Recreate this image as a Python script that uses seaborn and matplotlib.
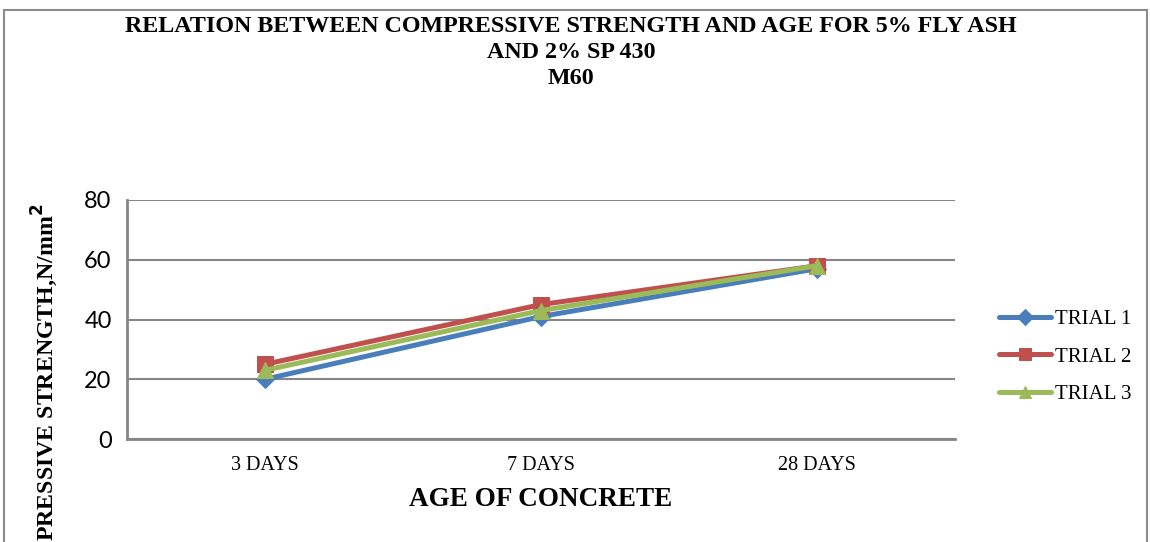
import numpy as np
import pandas as pd
import seaborn as sns
import matplotlib.pyplot as plt
from matplotlib.patches import Rectangle

# dados
idades = ['3 DAYS', '7 DAYS', '28 DAYS']
trial_1 = [20, 41, 57]
trial_2 = [25, 45, 58]
trial_3 = [23, 43, 58]
series = ['TRIAL 1', 'TRIAL 2', 'TRIAL 3']
yticks = [0, 20, 40, 60, 80]

df = pd.DataFrame({
    'idade': idades * 3,
    'resistencia': trial_1 + trial_2 + trial_3,
    'serie': np.repeat(series, len(idades)),
})

sns.set_style('white')
plt.rcParams['font.family'] = ['Liberation Serif', 'DejaVu Serif']
plt.rcParams['text.color'] = 'black'
plt.rcParams['xtick.color'] = 'black'
plt.rcParams['ytick.color'] = 'black'
plt.rcParams['axes.labelcolor'] = 'black'

fig = plt.figure(figsize=(11.5, 5.42), dpi=100)
ax = fig.add_axes([127 / 1150, 1 - 439 / 542, (955 - 127) / 1150, (439 - 200) / 542])

cores = {'TRIAL 1': '#4A7EBB', 'TRIAL 2': '#C0504D', 'TRIAL 3': '#9BBB59'}
marcadores = {'TRIAL 1': 'D', 'TRIAL 2': 's', 'TRIAL 3': '^'}
tamanhos = {'TRIAL 1': 9, 'TRIAL 2': 11, 'TRIAL 3': 12}

for s in series:
    sns.lineplot(data=df[df['serie'] == s], x='idade', y='resistencia', ax=ax,
                 color=cores[s], lw=3.6, marker=marcadores[s], markersize=tamanhos[s],
                 markeredgecolor=cores[s], label=s, sort=False, zorder=3)

ax.set_xlim(-0.5, 2.5)
ax.set_ylim(0, 80)
ax.set_yticks(yticks)
ax.set_yticklabels([str(v) for v in yticks], family='Lato', fontsize=17)
ax.set_xticks([-0.5, 0.5, 1.5, 2.5])
ax.set_xticklabels([])
ax.set_xticks(range(len(idades)), minor=True)
ax.set_xticklabels(idades, minor=True, fontsize=14.5)
ax.tick_params(axis='x', which='major', length=6, width=1, color='#868686', direction='out')
ax.tick_params(axis='x', which='minor', length=0, pad=12)
ax.tick_params(axis='y', length=7, width=1.2, color='#868686', direction='out', pad=4)

ax.yaxis.grid(True, color='#868686', lw=1.5)
ax.xaxis.grid(False)
for lado in ['top', 'right']:
    ax.spines[lado].set_visible(False)
for lado in ['left', 'bottom']:
    ax.spines[lado].set_color('#868686')
    ax.spines[lado].set_linewidth(2)

ax.set_xlabel('AGE OF CONCRETE', fontsize=19.5, fontweight='bold', labelpad=9)
ax.set_ylabel('')

fig.text(571 / 1150, 1 - 27 / 542, 'RELATION BETWEEN COMPRESSIVE STRENGTH AND AGE FOR 5% FLY ASH',
         ha='center', va='center', fontsize=17.3, fontweight='bold')
fig.text(571 / 1150, 1 - 53 / 542, 'AND 2% SP 430', ha='center', va='center',
         fontsize=17.3, fontweight='bold')
fig.text(571 / 1150, 1 - 79 / 542, 'M60', ha='center', va='center',
         fontsize=17.3, fontweight='bold')

# rótulo do eixo y: só a parte visível no original
fig.text(45 / 1150, 1 - 541 / 542, 'PRESSIVE STRENGTH,N/mm$^\\mathbf{2}$', rotation=90,
         ha='center', va='bottom', fontsize=17.2, fontweight='bold')

leg = ax.legend(loc='center left', bbox_to_anchor=(991 / 1150, 1 - 357 / 542),
                bbox_transform=fig.transFigure, frameon=False, fontsize=15,
                handlelength=2.5, handletextpad=0.15, labelspacing=0.85, borderaxespad=0)
for h in leg.legend_handles:
    h.set_markersize(8)

fig.add_artist(Rectangle((4 / 1150, -0.1), (1147 - 4) / 1150, 1 - 10 / 542 + 0.1,
                         transform=fig.transFigure, fill=False, edgecolor='#8c8c8c', lw=1.5))

fig.savefig('out.png', dpi=100)
